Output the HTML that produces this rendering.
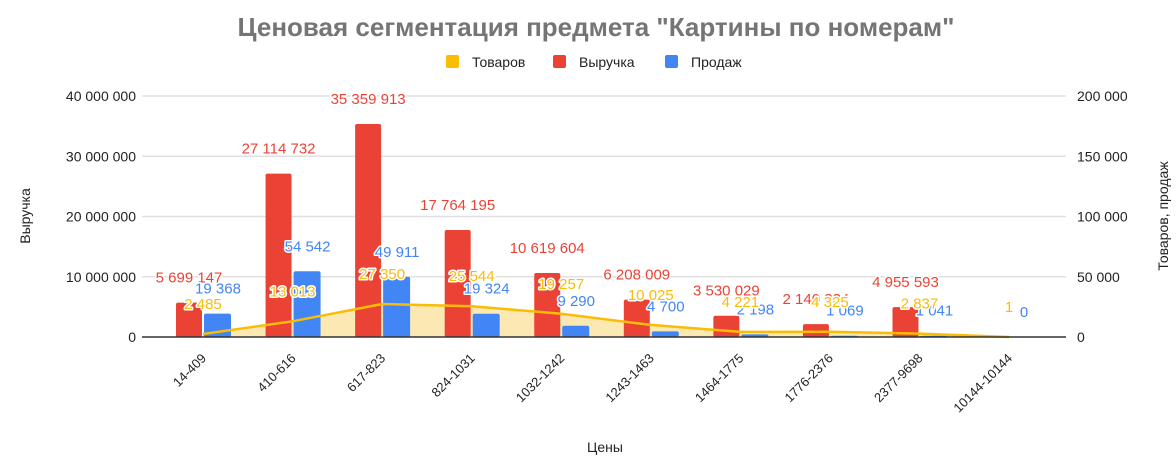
<!DOCTYPE html>
<html><head><meta charset="utf-8"><style>
body{margin:0;background:#fff;}
svg{display:block;font-family:"Liberation Sans",sans-serif;}
.v{paint-order:stroke;stroke:#fff;stroke-width:3px;stroke-linejoin:round;font-size:15px;text-anchor:middle;}
</style></head><body>
<svg id="c" width="1176" height="465" xmlns="http://www.w3.org/2000/svg"></svg>
<script>
const s=document.getElementById('c');let h='';
h+='<text x="596" y="36" text-anchor="middle" font-size="26" font-weight="bold" fill="#757575">Ценовая сегментация предмета "Картины по номерам"</text>';
const lg=[[446,'#fbbc04','Товаров'],[553,'#ea4335','Выручка'],[665,'#4285f4','Продаж']];
lg.forEach(l=>{h+=`<rect x="${l[0]}" y="55" width="13" height="13" rx="2" fill="${l[1]}"/><text x="${l[0]+26}" y="67" font-size="14" fill="#222">${l[2]}</text>`;});
const Y0=337,pxL=241/40e6,pxR=241/200000;
const lt=['0','10 000 000','20 000 000','30 000 000','40 000 000'],rt=['0','50 000','100 000','150 000','200 000'];
for(let i=0;i<5;i++){const y=Y0-i*60.25;if(i>0)h+=`<line x1="142" x2="1066" y1="${y}" y2="${y}" stroke="#e0e0e0" stroke-width="1.5"/>`;
h+=`<text x="136" y="${y+5}" text-anchor="end" font-size="14" fill="#222">${lt[i]}</text><text x="1077" y="${y+5}" font-size="14" fill="#222">${rt[i]}</text>`;}
const cats=['14-409','410-616','617-823','824-1031','1032-1242','1243-1463','1464-1775','1776-2376','2377-9698','10144-10144'];
const R=[5699147,27114732,35359913,17764195,10619604,6208009,3530029,2140334,4955593,0];
const B=[19368,54542,49911,19324,9290,4700,2198,1069,1041,0];
const T=[2485,13013,27350,25544,19257,10025,4221,4325,2837,1];
const fmt=n=>String(n).replace(/\B(?=(\d{3})+(?!\d))/g,' ');
const cx=i=>203+i*89.56;
let pts=T.map((t,i)=>[cx(i),Y0-t*pxR]);
h+=`<path d="M${pts[0][0]},${Y0} `+pts.map(p=>'L'+p[0]+','+p[1]).join(' ')+` L${pts[9][0]},${Y0}Z" fill="#fce8b2"/>`;
R.forEach((r,i)=>{const c=cx(i);const rh=r*pxL,bh=B[i]*pxR;
if(r)h+=`<rect x="${c-27}" y="${Y0-rh}" width="26" height="${rh}" rx="2" fill="#ea4335"/>`;
if(B[i])h+=`<rect x="${c+1}" y="${Y0-bh}" width="27" height="${bh}" rx="2" fill="#4285f4"/>`;});
h+=`<polyline points="${pts.map(p=>p.join(',')).join(' ')}" fill="none" stroke="#fbbc04" stroke-width="2.5"/>`;
h+=`<line x1="142" x2="1066" y1="${Y0}" y2="${Y0}" stroke="#333" stroke-width="1.5"/>`;
R.forEach((r,i)=>{const c=cx(i);
if(r)h+=`<text class="v" x="${c-14}" y="${Y0-r*pxL-20}" fill="#ea4335">${fmt(r)}</text>`;
h+=`<text class="v" x="${c+15}" y="${Y0-B[i]*pxR-20}" fill="#4285f4">${fmt(B[i])}</text>`;
h+=`<text class="v" x="${c}" y="${Y0-T[i]*pxR-25}" fill="#fbbc04">${fmt(T[i])}</text>`;
h+=`<text x="${c+4}" y="${Y0+22}" text-anchor="end" font-size="13" fill="#222" transform="rotate(-45 ${c+4} ${Y0+22})">${cats[i]}</text>`;});
h+='<text x="605" y="452" text-anchor="middle" font-size="14" fill="#222">Цены</text>';
h+='<text transform="translate(30,216) rotate(-90)" text-anchor="middle" font-size="14" fill="#222">Выручка</text>';
h+='<text transform="translate(1168,216) rotate(-90)" text-anchor="middle" font-size="14" fill="#222">Товаров, продаж</text>';
s.innerHTML=h;
</script>
</body></html>
